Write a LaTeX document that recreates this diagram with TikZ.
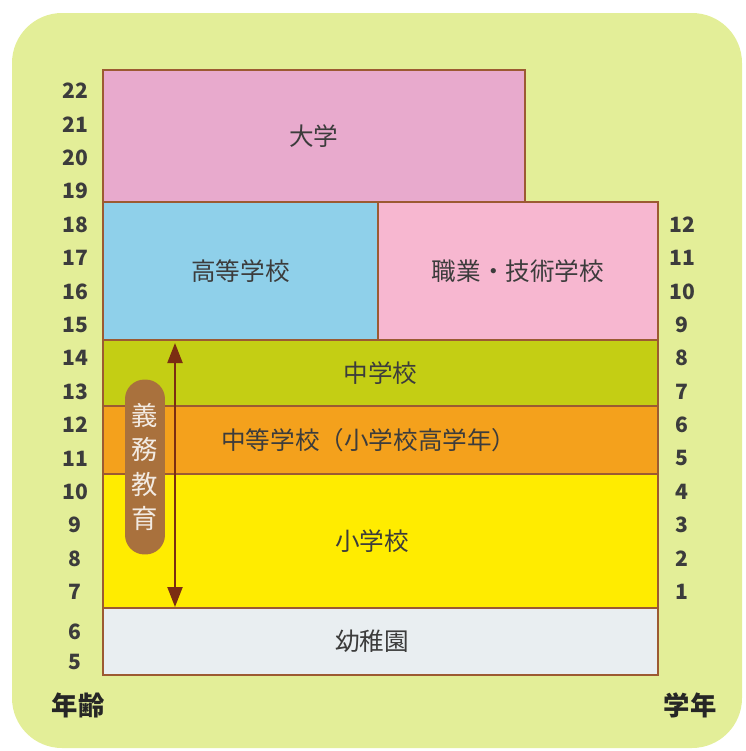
\documentclass[tikz,border=0pt]{standalone}
\usepackage{fontspec}
\usepackage{tikz}
\usetikzlibrary{arrows.meta, positioning}
\newfontfamily\jp{Noto Sans CJK JP}
\definecolor{BgGreen}{HTML}{E3EE98}
\definecolor{UniPink}{HTML}{E8AACD}
\definecolor{HighBlue}{HTML}{8FD0EA}
\definecolor{VocPink}{HTML}{F7B7D0}
\definecolor{MidLime}{HTML}{C4CE14}
\definecolor{SecOrange}{HTML}{F4A11C}
\definecolor{PrimYellow}{HTML}{FFEC00}
\definecolor{KinderGrey}{HTML}{E9EEF1}
\definecolor{EdgeBrown}{HTML}{9C5A32}
\definecolor{PillBrown}{HTML}{A9713D}
\definecolor{ArrowBrown}{HTML}{7B2D12}
\definecolor{InkGrey}{HTML}{3C3C3C}

\begin{document}
\begin{tikzpicture}[x=0.02cm, y=-0.02cm, >={Triangle[length=0.4cm, width=0.3cm]}]
        \tikzstyle{stage} = [rectangle, draw=EdgeBrown, line width=1pt, inner sep=0pt, outer sep=0pt, minimum width=11.1cm, text=InkGrey, font=\jp\fontsize{14}{16}\selectfont]
        \tikzstyle{num}   = [inner sep=0pt, text=InkGrey, font=\jp\bfseries\fontsize{12}{14}\selectfont]
        \tikzstyle{head}  = [inner sep=0pt, text=black!85, font=\jp\bfseries\fontsize{15}{17}\selectfont]

        \useasboundingbox (0,0) rectangle (745,751);
        \fill[BgGreen, rounded corners=1cm] (12,13) rectangle (742,748);

        % School stages
        \node[stage, fill=UniPink, minimum width=8.44cm, minimum height=2.64cm, anchor=north west] (daigaku) at (103,70) {大学};
        \node[stage, fill=HighBlue, minimum width=5.5cm, minimum height=2.76cm, below right=0pt and 0pt of daigaku.south west] (koko) {高等学校};
        \node[stage, fill=VocPink, minimum width=5.6cm, minimum height=2.76cm, right=0pt of koko] (shokugyo) {職業・技術学校};
        \node[stage, fill=MidLime, minimum height=1.32cm, below right=0pt and 0pt of koko.south west] (chugaku) {中学校};
        \node[stage, fill=SecOrange, minimum height=1.36cm, below right=0pt and 0pt of chugaku.south west] (chuto) {中等学校（小学校高学年）\hspace*{0.46cm}};
        \node[stage, fill=PrimYellow, minimum height=2.68cm, below right=0pt and 0pt of chuto.south west] (shogaku) {小学校\hspace*{0.34cm}};
        \node[stage, fill=KinderGrey, minimum height=1.34cm, below right=0pt and 0pt of shogaku.south west] (yochien) {幼稚園\hspace*{0.34cm}};

        % Compulsory education
        \coordinate (gtop) at (175,343);
        \coordinate (gbot) at (175,607);
        \draw[<->, ArrowBrown, line width=1.2pt] (gtop) -- (gbot);
        \node[fill=PillBrown, rounded corners=0.39cm, minimum width=0.8cm, minimum height=3.5cm, inner sep=0pt, align=center, text=white!85!PillBrown, font=\jp\fontsize{15}{19.5}\selectfont] (gimu) at (145,467) {義\\務\\教\\育};

        % Age and grade scales
        \foreach \a in {7,...,22}
            \node[num] (age\a) at (75,{592-(\a-7)*33.4}) {\a};
        \node[num] (age6) at (75,632) {6};
        \node[num] (age5) at (75,662) {5};
        \foreach \g in {1,...,12}
            \node[num] (grade\g) at (682,{592-(\g-1)*33.4}) {\g};
        \node[head] (nenrei) at (78,705) {年齢};
        \node[head] (gakunen) at (690,705) {学年};
    \end{tikzpicture}
\end{document}
